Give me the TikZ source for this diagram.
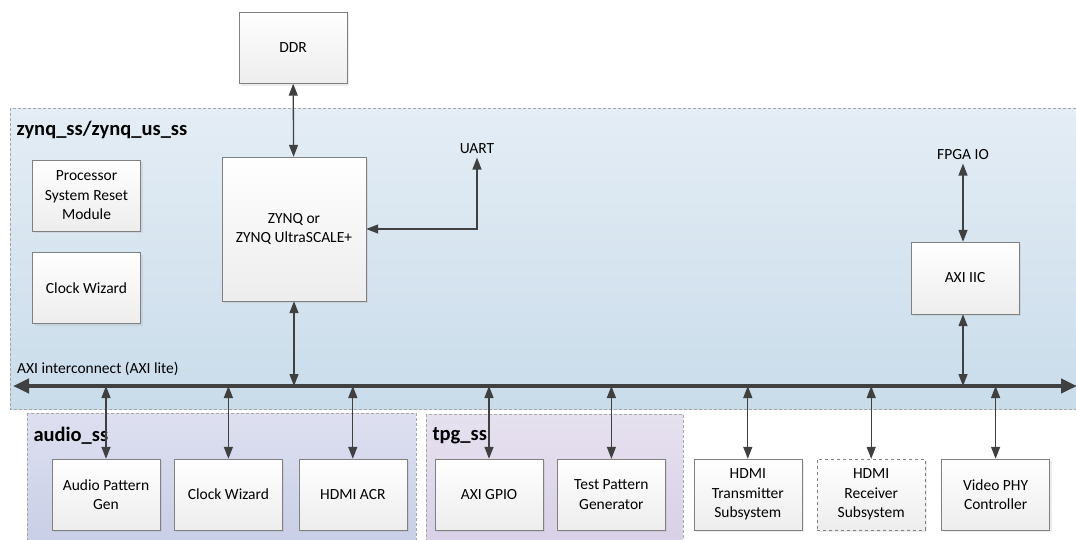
\documentclass[tikz,border=0pt]{standalone}
\usepackage{fontspec}
\setmainfont{Carlito}
\usetikzlibrary{arrows.meta, positioning, shadows}
\definecolor{linkgray}{RGB}{64,64,64}
\definecolor{boxgray}{RGB}{128,128,128}
\definecolor{zynqtop}{RGB}{228,237,245}
\definecolor{zynqbot}{RGB}{201,220,234}
\definecolor{audiotop}{RGB}{222,224,240}
\definecolor{audiobot}{RGB}{200,206,230}
\definecolor{tpgtop}{RGB}{230,225,239}
\definecolor{tpgbot}{RGB}{216,208,230}

\begin{document}
\begin{tikzpicture}[
  x=1pt, y=-1pt,
  node distance=15pt,
  blk/.style={rectangle, draw=boxgray, top color=white, bottom color=black!7, minimum width=108pt, minimum height=71pt, align=center, font=\fontsize{15.5}{19.5}\selectfont, drop shadow={shadow xshift=2pt, shadow yshift=-2pt, opacity=0.15}},
  region/.style={draw=black!35, dash pattern=on 3pt off 2pt, line width=0.8pt},
  title/.style={anchor=west, font=\fontsize{20.5}{24}\selectfont\bfseries},
  lbl/.style={font=\fontsize{15.5}{18}\selectfont},
  link/.style={{Triangle[length=12pt, width=9pt]}-{Triangle[length=12pt, width=9pt]}, line width=1.3pt, color=linkgray},
  bus/.style={{Triangle[length=16pt, width=14pt]}-{Triangle[length=16pt, width=14pt]}, line width=4pt, color=linkgray},
]
  \useasboundingbox (0,0) rectangle (1076,539);

  % subsystem areas
  \path[region, top color=zynqtop, bottom color=zynqbot] (10,108) rectangle (1082,409);
  \path[region, top color=audiotop, bottom color=audiobot] (27,413) rectangle (416,545);
  \path[region, top color=tpgtop, bottom color=tpgbot] (426,414) rectangle (683,545);
  \node[title] (zynqlbl) at (13,130) {zynq\_ss/zynq\_us\_ss};
  \node[title] (audiolbl) at (30,436) {audio\_ss};
  \node[title] (tpglbl) at (429,436) {tpg\_ss};

  % processor side
  \node[blk] (ddr) at (293,48) {DDR};
  \node[blk, minimum width=144pt, minimum height=144pt] (zynq) at (294,229) {ZYNQ or\\ZYNQ UltraSCALE+};
  \node[blk] (psrm) at (86.5,195.5) {Processor\\System Reset\\Module};
  \node[blk] (clkwiz) at (86.5,288) {Clock Wizard};
  \node[lbl] (uart) at (477,149) {UART};
  \node[lbl] (fpgaio) at (963,155) {FPGA IO};
  \node[blk, minimum height=72pt] (iic) at (965,278) {AXI IIC};

  % AXI interconnect
  \coordinate (busL) at (13,386);
  \coordinate (busR) at (1077,386);
  \draw[bus] (busL) -- (busR);
  \node[lbl, anchor=south west, inner sep=1pt] (buslbl) at (16,377) {AXI interconnect (AXI lite)};

  % peripherals
  \node[blk] (apg) at (106,494.5) {Audio Pattern\\Gen};
  \node[blk, right=14pt of apg] (clkaud) {Clock Wizard};
  \node[blk, right=16pt of clkaud] (acr) {HDMI ACR};
  \node[blk] (gpio) at (489,494.5) {AXI GPIO};
  \node[blk, right=14pt of gpio] (tpg) {Test Pattern\\Generator};
  \node[blk, right=28pt of tpg] (hdmitx) {HDMI\\Transmitter\\Subsystem};
  \node[blk, right=of hdmitx, dashed] (hdmirx) {HDMI\\Receiver\\Subsystem};
  \node[blk, right=16pt of hdmirx] (vphy) {Video PHY\\Controller};

  \draw[link] (ddr) -- (zynq);
  \draw[link] (zynq.east) -| (uart.south);
  \draw[link] (zynq) -- (zynq.south |- busL);
  \draw[link] (fpgaio) -- (iic.north -| fpgaio);
  \draw[link] (iic.south -| fpgaio) -- (fpgaio |- busL);
  \foreach \blk in {apg, clkaud, acr, gpio, tpg, hdmitx, hdmirx, vphy}
    \draw[link] (\blk.north |- busL) -- (\blk);
\end{tikzpicture}
\end{document}
